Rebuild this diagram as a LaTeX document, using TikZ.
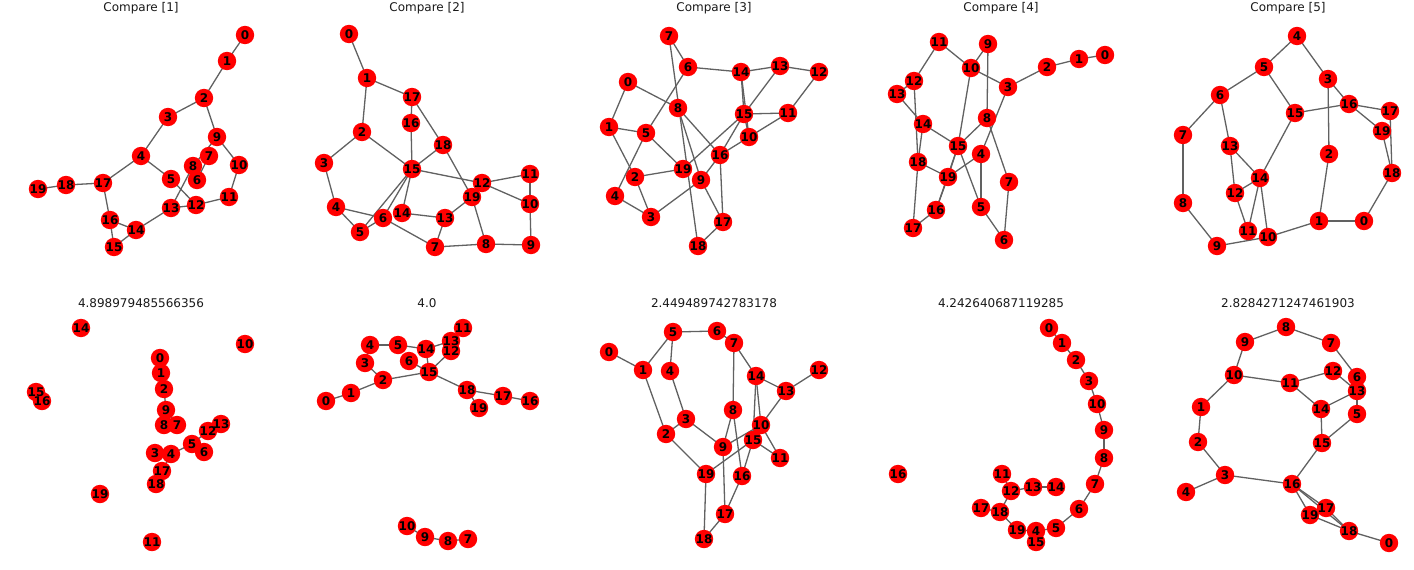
\documentclass[tikz,border=0pt]{standalone}
\usepackage{fontspec}
\newfontfamily\dvs{DejaVu Sans}
\pgfdeclarelayer{bg}
\pgfdeclarelayer{mid}
\pgfsetlayers{bg,mid,main}
\tikzset{
  lbl/.style={inner sep=0pt, font=\dvs\bfseries\fontsize{12}{12}\selectfont, text=black},
  edgeln/.style={draw=black!62, line width=1.3pt},
  ttl/.style={inner sep=0pt, font=\dvs\fontsize{12}{12}\selectfont, text=black!90}
}
\newcommand\mkpanel[3]{%
  \foreach \n/\px/\py in {#2} {%
    \node[lbl] (#1\n) at (\px,\py) {\n};
    \begin{pgfonlayer}{mid}\fill[red] (#1\n.center) circle (9.2pt);\end{pgfonlayer}
  }%
  \begin{pgfonlayer}{bg}
  \foreach \u/\v in {#3} {\draw[edgeln] (#1\u.center) -- (#1\v.center);}
  \end{pgfonlayer}%
}
\begin{document}
\begin{tikzpicture}[x=1pt,y=-1pt]
\useasboundingbox (0,0) rectangle (1414,570);
% titles
\node[ttl] (t1) at (141,8.5) {Compare [1]};
\node[ttl] (t2) at (427,8.5) {Compare [2]};
\node[ttl] (t3) at (714,8.5) {Compare [3]};
\node[ttl] (t4) at (1001,8.5) {Compare [4]};
\node[ttl] (t5) at (1288,8.5) {Compare [5]};
\node[ttl] (t6) at (141,303) {4.898979485566356};
\node[ttl] (t7) at (427,303) {4.0};
\node[ttl] (t8) at (714,303) {2.449489742783178};
\node[ttl] (t9) at (1001,303) {4.242640687119285};
\node[ttl] (t10) at (1288,303) {2.8284271247461903};
% panel 1
\mkpanel{A}{0/245/35, 1/227/61, 2/204/98, 3/168/117, 4/141/156, 5/171/179, 6/197/180, 7/209/156, 8/193/166, 9/217/137, 10/239/165, 11/229/197, 12/196/205, 13/171/208, 14/136/230, 15/114/247, 16/110/220, 17/103/183, 18/66/185, 19/38/189}
{0/1,1/2,2/3,2/9,3/4,4/5,4/17,5/12,9/8,9/10,7/6,8/13,10/11,11/12,12/13,13/14,14/16,14/15,15/16,16/17,17/18,18/19}
% panel 2
\mkpanel{B}{0/349/34, 1/367/78, 2/362/132, 3/324/163, 4/336/207, 5/360/232, 6/383/218, 7/435/247, 8/486/244, 9/531/245, 10/530/204, 11/530/174, 12/482/183, 13/445/218, 14/402/213, 15/412/169, 16/411/123, 17/412/97, 18/443/145, 19/472/197}
{0/1,1/2,1/17,17/16,17/18,16/15,2/15,2/3,3/4,4/6,4/5,5/6,5/15,6/15,6/7,15/14,14/13,13/7,13/19,15/18,15/12,18/19,19/8,7/8,8/9,9/10,10/11,11/12,12/10}
% panel 3
\mkpanel{C}{0/628/82, 1/609/127, 2/635/177, 3/651/217, 4/615/196, 5/646/133, 6/688/67, 7/669/36, 8/678/108, 9/701/180, 10/749/137, 11/788/113, 12/819/72, 13/780/66, 14/741/72, 15/744/114, 16/720/155, 17/723/222, 18/698/246, 19/683/169}
{0/1,0/8,1/5,1/2,2/3,2/19,3/4,3/9,4/5,5/6,5/19,6/7,6/14,7/18,8/9,8/16,9/16,9/17,16/17,16/15,16/10,10/11,15/11,15/14,14/10,14/13,13/12,12/11,13/15,15/19,15/10,17/18}
% panel 4
\mkpanel{D}{0/1105/55, 1/1079/59, 2/1047/67, 3/1008/87, 4/981/154, 5/981/207, 6/1004/240, 7/1009/182, 8/987/118, 9/988/44, 10/971/68, 11/939/42, 12/914/81, 13/897/94, 14/923/124, 15/958/146, 16/936/210, 17/913/228, 18/918/162, 19/948/177}
{0/1,1/2,2/3,3/10,3/4,10/11,10/9,10/15,9/8,11/12,12/13,12/18,13/14,14/15,14/18,18/17,18/19,15/8,15/19,15/16,15/5,19/4,19/16,16/17,4/5,8/7,7/6,5/6}
% panel 5
\mkpanel{E}{0/1364/221, 1/1319/221, 2/1329/154, 3/1328/79, 4/1297/36, 5/1264/67, 6/1220/95, 7/1183/135, 8/1183/203, 9/1217/246, 10/1268/237, 11/1248/231, 12/1235/193, 13/1230/146, 14/1260/178, 15/1295/113, 16/1349/104, 17/1390/111, 18/1392/173, 19/1382/131}
{4/5,4/3,5/6,5/15,6/7,6/13,7/8,8/9,9/10,10/1,1/0,1/2,2/3,3/16,16/15,16/17,16/19,17/18,19/18,18/0,15/14,13/14,13/12,12/14,12/11,14/11,14/10}
% panel 6
\mkpanel{F}{0/160/358, 1/161/373, 2/164/389, 3/155/453, 4/171/454, 5/192/444, 6/204/452, 7/177/425, 8/164/425, 9/166/410, 10/245/344, 11/152/542, 12/208/431, 13/221/424, 14/81/328, 15/36/392, 16/42/401, 17/162/471, 18/156/484, 19/100/494}
{0/1,1/2,2/9,9/8,9/7,3/4,4/5,5/6,5/12,12/13,4/17,17/18}
% panel 7
\mkpanel{G}{0/326/401, 1/351/393, 2/383/380, 3/365/363, 4/370/345, 5/398/345, 6/409/361, 7/468/539, 8/448/541, 9/425/537, 10/407/526, 11/463/328, 12/451/351, 13/451/341, 14/426/349, 15/429/372, 16/530/401, 17/503/396, 18/467/390, 19/479/408}
{0/1,1/2,2/3,3/4,4/5,5/14,14/13,14/15,6/15,15/12,2/15,15/18,18/17,17/16,18/19,10/9,9/8,8/7}
% panel 8
\mkpanel{H}{0/609/352, 1/643/370, 2/666/434, 3/686/419, 4/670/371, 5/673/332, 6/717/331, 7/734/343, 8/733/410, 9/723/447, 10/761/425, 11/780/458, 12/819/370, 13/786/391, 14/756/376, 15/753/440, 16/742/476, 17/725/514, 18/704/539, 19/706/474}
{0/1,1/5,1/2,5/6,5/4,6/7,4/3,3/2,3/9,2/19,7/14,7/8,8/9,8/16,9/10,9/17,14/13,13/12,13/10,14/10,14/15,10/11,15/11,15/19,15/16,16/17,19/18,18/17}
% panel 9
\mkpanel{I}{0/1049/328, 1/1062/343, 2/1076/360, 3/1089/381, 4/1036/531, 5/1056/528, 6/1079/509, 7/1095/484, 8/1104/458, 9/1104/430, 10/1097/404, 11/1002/474, 12/1011/491, 13/1033/487, 14/1056/487, 15/1036/542, 16/898/474, 17/981/508, 18/1000/512, 19/1017/530}
{0/1,1/2,2/3,3/10,10/9,9/8,8/7,7/6,6/5,5/4,4/15,4/19,19/18,18/17,18/12,12/11,12/13,13/14}
% panel 10
\mkpanel{J}{0/1389/543, 1/1201/407, 2/1198/442, 3/1225/475, 4/1186/492, 5/1357/414, 6/1357/377, 7/1331/343, 8/1286/327, 9/1245/342, 10/1234/375, 11/1290/383, 12/1333/371, 13/1357/391, 14/1321/409, 15/1322/443, 16/1292/484, 17/1326/508, 18/1349/531, 19/1310/515}
{8/9,8/7,9/10,10/1,1/2,2/3,3/4,3/16,10/11,11/12,11/14,12/13,7/6,6/13,13/14,13/5,5/15,14/15,15/16,16/17,16/19,16/18,19/18,17/18,18/0}
\end{tikzpicture}
\end{document}
